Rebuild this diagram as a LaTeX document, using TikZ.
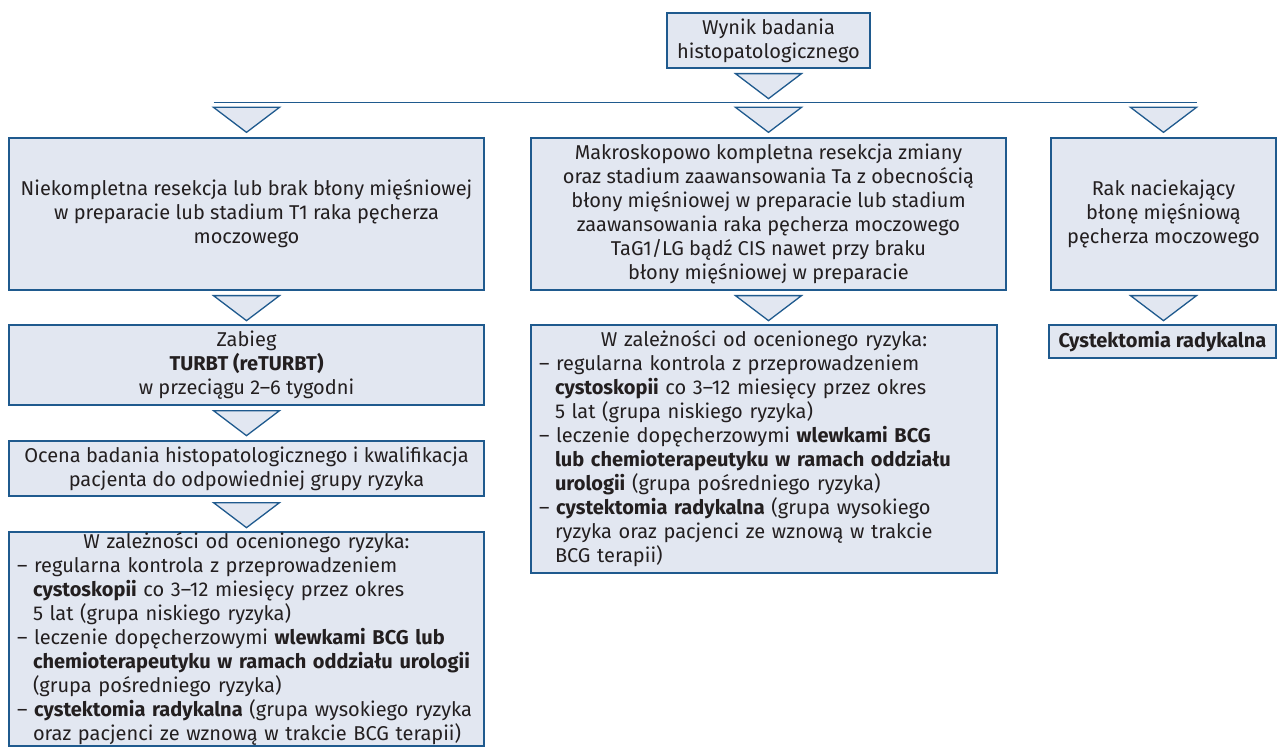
\documentclass[tikz,border=0pt]{standalone}
\usepackage{fontspec}
\setmainfont{Fira Sans}
\usetikzlibrary{calc}
\definecolor{darkblue}{HTML}{1F5A8E}
\definecolor{paleblue}{HTML}{E2E7F1}
\definecolor{textgrey}{HTML}{231F20}
\newcommand{\ind}{\hspace*{16pt}}
\newcommand{\downtri}[1]{\draw[tri] (#1) ++(-33,0) -- ++(66,0) -- ++(-33,25) -- cycle;}

\begin{document}
\begin{tikzpicture}[x=1pt, y=-1pt,
  box/.style={rectangle, draw=darkblue, fill=paleblue, line width=1.3pt, inner sep=0pt, text=textgrey, align=center, font=\fontsize{20}{24}\selectfont},
  listbox/.style={box, align=left, inner xsep=8pt},
  tri/.style={draw=darkblue, fill=paleblue, line width=1.3pt, line join=miter}]
\useasboundingbox (0,0) rectangle (1277,751);

\node[box, minimum width=203pt, minimum height=55pt] (wynik) at (768.5,40.5) {Wynik badania\\histopatologicznego};

\node[box, minimum width=475pt, minimum height=152pt] (niekompl) at (246.5,214) {Niekompletna resekcja lub brak błony mięśniowej\\w preparacie lub stadium T1 raka pęcherza\\moczowego};
\node[box, minimum width=475pt, minimum height=152pt] (makro) at (768.5,214) {Makroskopowo kompletna resekcja zmiany\\oraz stadium zaawansowania Ta z obecnością\\błony mięśniowej w preparacie lub stadium\\zaawansowania raka pęcherza moczowego\\TaG1/LG bądź CIS nawet przy braku\\błony mięśniowej w preparacie};
\node[box, minimum width=225pt, minimum height=152pt] (rak) at (1163.5,214) {Rak naciekający\\błonę mięśniową\\pęcherza moczowego};

\node[box, minimum width=475pt, minimum height=80pt] (turbt) at (246.5,365) {Zabieg\\\textbf{TURBT (reTURBT)}\\w przeciągu 2–6 tygodni};
\node[box, minimum width=475pt, minimum height=55pt] (ocena) at (246.5,468.5) {Ocena badania histopatologicznego i kwalifikacja\\pacjenta do odpowiedniej grupy ryzyka};
\node[listbox, text width=459pt, minimum height=214pt] (ryzykoL) at (246.5,639) {\makebox[\linewidth][c]{W zależności od ocenionego ryzyka:}\\
– regularna kontrola z przeprowadzeniem\\
\ind\textbf{cystoskopii} co 3–12 miesięcy przez okres\\
\ind 5 lat (grupa niskiego ryzyka)\\
– leczenie dopęcherzowymi \textbf{wlewkami BCG lub}\\
\ind\textbf{chemioterapeutyku w ramach oddziału urologii}\\
\ind(grupa pośredniego ryzyka)\\
– \textbf{cystektomia radykalna} (grupa wysokiego ryzyka\\
\ind oraz pacjenci ze wznową w trakcie BCG terapii)};

\node[listbox, text width=450pt, minimum height=248pt] (ryzykoM) at (764,449) {\makebox[\linewidth][c]{W zależności od ocenionego ryzyka:}\\
– regularna kontrola z przeprowadzeniem\\
\ind\textbf{cystoskopii} co 3–12 miesięcy przez okres\\
\ind 5 lat (grupa niskiego ryzyka)\\
– leczenie dopęcherzowymi \textbf{wlewkami BCG}\\
\ind\textbf{lub chemioterapeutyku w ramach oddziału}\\
\ind\textbf{urologii} (grupa pośredniego ryzyka)\\
– \textbf{cystektomia radykalna} (grupa wysokiego\\
\ind ryzyka oraz pacjenci ze wznową w trakcie\\
\ind BCG terapii)};

\node[box, minimum width=227pt, minimum height=33pt] (cyst) at (1162.5,341.5) {\textbf{Cystektomia radykalna}};

% split line and arrows
\downtri{$(wynik.south)+(0,5)$}
\draw[darkblue, line width=1.3pt] ($(niekompl.north)+(-33,-35)$) -- ($(rak.north)+(33,-35)$);
\downtri{$(niekompl.north)+(0,-30)$}
\downtri{$(makro.north)+(0,-30)$}
\downtri{$(rak.north)+(0,-30)$}

\downtri{$(niekompl.south)+(0,5)$}
\downtri{$(makro.south)+(0,5)$}
\downtri{$(rak.south)+(0,5)$}
\downtri{$(turbt.south)+(0,5)$}
\downtri{$(ocena.south)+(0,6)$}
\end{tikzpicture}
\end{document}
